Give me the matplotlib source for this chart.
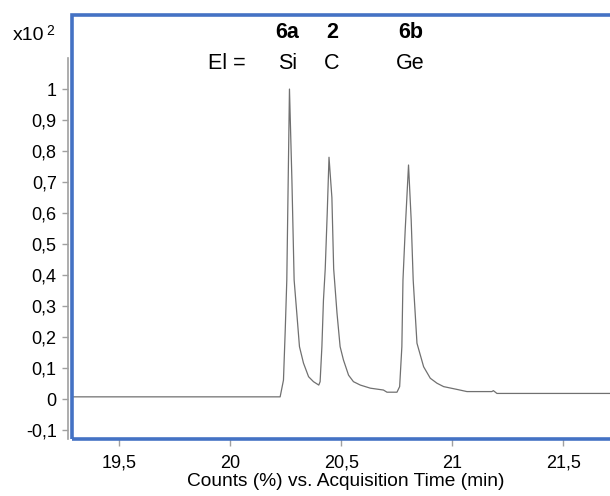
import matplotlib.pyplot as plt
from matplotlib.patches import Rectangle
from matplotlib.ticker import MultipleLocator, FuncFormatter

plt.rcParams["font.family"] = ["Liberation Sans", "DejaVu Sans"]

# chromatogram trace (time in min, counts in x10^2)
time_min = [19.29, 20.225, 20.240, 20.248, 20.255, 20.267, 20.278, 20.288,
            20.300, 20.312, 20.330, 20.353, 20.375, 20.399, 20.405, 20.413,
            20.420, 20.428, 20.437, 20.445, 20.458, 20.466, 20.481, 20.495,
            20.510, 20.533, 20.555, 20.586, 20.631, 20.690, 20.706, 20.751,
            20.763, 20.773, 20.778, 20.788, 20.803, 20.815, 20.824, 20.841,
            20.871, 20.901, 20.931, 20.961, 21.021, 21.066, 21.178, 21.185,
            21.201, 21.72]
counts = [0.007, 0.007, 0.061, 0.223, 0.384, 1.000, 0.706, 0.384,
          0.277, 0.169, 0.116, 0.072, 0.056, 0.045, 0.056, 0.169,
          0.319, 0.420, 0.600, 0.780, 0.650, 0.420, 0.277, 0.169,
          0.126, 0.077, 0.056, 0.045, 0.035, 0.029, 0.022, 0.022,
          0.040, 0.169, 0.384, 0.545, 0.755, 0.577, 0.384, 0.180,
          0.104, 0.067, 0.051, 0.040, 0.031, 0.024, 0.024, 0.027,
          0.018, 0.018]

peak_ids = ["6a", "2", "6b"]
peak_elements = ["Si", "C", "Ge"]
peak_pos = [20.257, 20.459, 20.811]

fig = plt.figure(figsize=(6.1, 4.96), dpi=100)
ax = fig.add_axes([72 / 610, 1 - 439 / 496, 1 - 72 / 610, (439 - 15) / 496])

ax.plot(time_min, counts, color="#707070", lw=0.9)
ax.set_xlim(19.288, 21.71)
ax.set_ylim(-0.129, 1.239)

ax.xaxis.set_major_locator(MultipleLocator(0.5))
comma = FuncFormatter(lambda v, p: f"{round(v, 2):g}".replace(".", ","))
ax.xaxis.set_major_formatter(comma)
ax.yaxis.set_major_formatter(comma)
ax.set_yticks([i / 10 for i in range(-1, 11)])

for s in ["top", "right", "bottom"]:
    ax.spines[s].set_visible(False)
ax.spines["left"].set_position(("outward", 3))
ax.spines["left"].set_bounds(-0.129, 1.1)
ax.spines["left"].set_color("#a0a0a0")
ax.spines["left"].set_linewidth(1.2)

ax.tick_params(axis="x", length=5, width=1, color="#a0a0a0", pad=6.5, labelsize=13)
ax.tick_params(axis="y", length=4, width=1, color="#a0a0a0", pad=4, labelsize=13)

# blue frame (right side runs off the picture)
ax.add_patch(Rectangle((0, 0), 1.05, 1, transform=ax.transAxes, fill=False,
                       edgecolor="#4472C4", lw=2.6, clip_on=False, zorder=5))

for pid, el, x in zip(peak_ids, peak_elements, peak_pos):
    ax.text(x, 1.181, pid, ha="center", va="center", fontsize=15.5, fontweight="bold")
    ax.text(x, 1.084, el, ha="center", va="center", fontsize=15.5)
ax.text(19.986, 1.084, "El =", ha="center", va="center", fontsize=15.5)

fig.text(13 / 610, 1 - 36 / 496, "x10", ha="left", va="center", fontsize=14)
fig.text(46 / 610, 1 - 31 / 496, "2", ha="left", va="center", fontsize=10)
fig.text(346 / 610, 1 - 481 / 496, "Counts (%) vs. Acquisition Time (min)",
         ha="center", va="center", fontsize=13.8)

fig.savefig("out.png", dpi=100)
